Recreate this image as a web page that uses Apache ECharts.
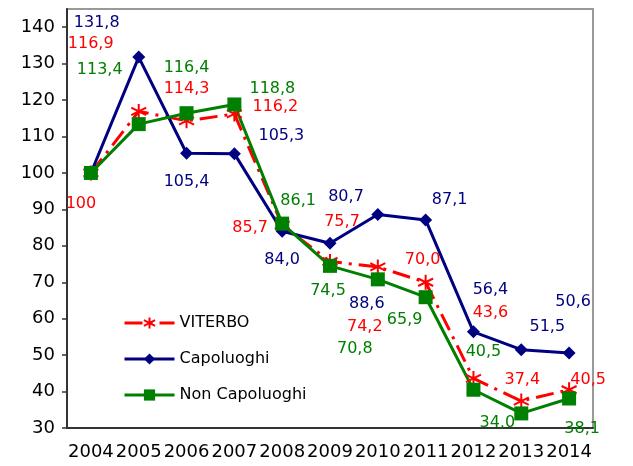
<!DOCTYPE html>
<html>
<head>
<meta charset="utf-8">
<script src="https://cdn.jsdelivr.net/npm/echarts@6/dist/echarts.min.js"></script>
<style>
  html, body { margin: 0; padding: 0; background: #fff; }
  #chart { width: 633px; height: 466px; }
</style>
</head>
<body>
<div id="chart"></div>
<script>
var years = ['2004', '2005', '2006', '2007', '2008', '2009', '2010', '2011', '2012', '2013', '2014'];
var viterbo = [100, 116.9, 114.3, 116.2, 85.7, 75.7, 74.2, 70.0, 43.6, 37.4, 40.5];
var capoluoghi = [100, 131.8, 105.4, 105.3, 84.0, 80.7, 88.6, 87.1, 56.4, 51.5, 50.6];
var nonCapoluoghi = [100, 113.4, 116.4, 118.8, 86.1, 74.5, 70.8, 65.9, 40.5, 34.0, 38.1];
var yTicks = [30, 40, 50, 60, 70, 80, 90, 100, 110, 120, 130, 140];

// label placement (pixel offsets from each point), null = no label
var viterboOffsets = [[-10, 31], [-48, -68], [0, -32], [41, -7], [-32, 3], [12, -40], [-13, 60], [-3, -22], [17, -66], [1, -21], [19, -10]];
var capoluoghiOffsets = [null, [-42, -34], [0, 29], [47, -18], [0, 29], [16, -46], [-11, 89], [24, -20], [17, -42], [26, -23], [4, -51]];
var nonCapoluoghiOffsets = [null, [-39, -54], [0, -45], [38, -16], [16, -23], [-2, 25], [-23, 69], [-21, 23], [10, -38], [-24, 9], [13, 30]];

var font = '"DejaVu Sans", Verdana, sans-serif';

function fmt(v) {
    return v === 100 ? '100' : v.toFixed(1).replace('.', ',');
}

function buildData(values, offsets, color) {
    return values.map(function(v, i) {
        var off = offsets[i];
        return {
            value: v,
            label: off ? {
                show: true,
                position: 'inside',
                offset: off,
                color: color,
                fontSize: 16,
                fontFamily: font,
                formatter: function(p) { return fmt(p.value); }
            } : { show: false }
        };
    });
}

var star = 'path://M5,0 L5,10 M0.7,2.5 L9.3,7.5 M0.7,7.5 L9.3,2.5';

var myChart = echarts.init(document.getElementById('chart'));

var option = {
    animation: false,
    grid: {
        left: 67,
        right: 40,
        top: 9,
        bottom: 38,
        show: true,
        borderColor: '#999',
        borderWidth: 2
    },
    legend: {
        orient: 'vertical',
        left: 123,
        top: 315,
        padding: 0,
        itemWidth: 50,
        itemHeight: 14,
        itemGap: 20,
        lineStyle: { width: 3 },
        textStyle: { fontSize: 16, fontFamily: font, color: '#000' },
        data: ['VITERBO', 'Capoluoghi', 'Non Capoluoghi']
    },
    xAxis: {
        type: 'category',
        data: years,
        boundaryGap: true,
        axisLine: { lineStyle: { color: '#333', width: 2 } },
        axisTick: { length: 5, lineStyle: { color: '#333', width: 1.5 } },
        axisLabel: { color: '#000', fontSize: 18, fontFamily: font, margin: 15, interval: 0 },
        splitLine: { show: false }
    },
    yAxis: {
        type: 'value',
        min: 30,
        max: 145,
        interval: 10,
        axisLine: { show: true, lineStyle: { color: '#333', width: 2 } },
        axisTick: { show: true, length: 5, customValues: yTicks, lineStyle: { color: '#333', width: 1.5 } },
        axisLabel: { color: '#000', fontSize: 18, fontFamily: font, margin: 12, customValues: yTicks },
        splitLine: { show: false }
    },
    series: [{
        name: 'VITERBO',
        type: 'line',
        data: buildData(viterbo, viterboOffsets, '#ff0000'),
        symbol: star,
        symbolSize: 15,
        itemStyle: { color: '#ff0000', borderColor: '#ff0000', borderWidth: 2 },
        lineStyle: { color: '#ff0000', width: 3, type: [18, 7, 3, 7] }
    }, {
        name: 'Capoluoghi',
        type: 'line',
        data: buildData(capoluoghi, capoluoghiOffsets, '#000080'),
        symbol: 'diamond',
        symbolSize: 13,
        itemStyle: { color: '#000080' },
        lineStyle: { color: '#000080', width: 3 }
    }, {
        name: 'Non Capoluoghi',
        type: 'line',
        data: buildData(nonCapoluoghi, nonCapoluoghiOffsets, '#008000'),
        symbol: 'rect',
        symbolSize: 14,
        itemStyle: { color: '#008000' },
        lineStyle: { color: '#008000', width: 3 }
    }]
};

myChart.setOption(option);
</script>
</body>
</html>
